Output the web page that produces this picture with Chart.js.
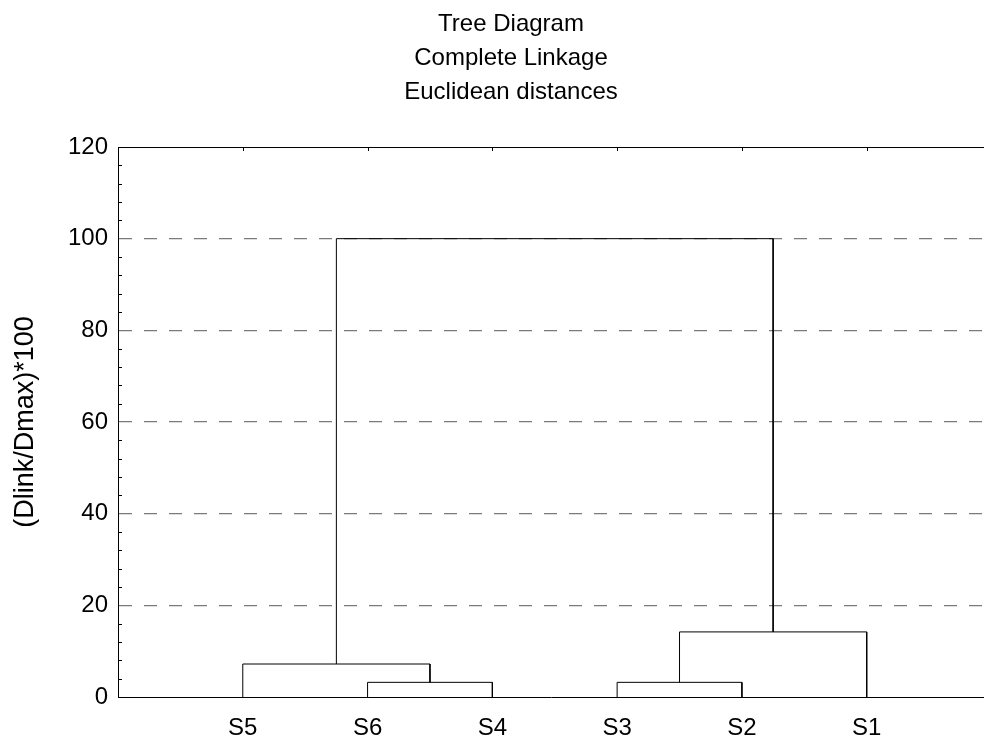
<!DOCTYPE html>
<html>
<head>
<meta charset="utf-8">
<script src="https://cdn.jsdelivr.net/npm/chart.js@4/dist/chart.umd.min.js"></script>
<style>
  body { margin: 0; background: #fff; }
</style>
</head>
<body>
<canvas id="tree" width="984" height="740"></canvas>
<script>
// Leaves in the order they appear along the axis
const leaves = ['S5', 'S6', 'S4', 'S3', 'S2', 'S1'];

// Merge steps: indices 0..5 are leaves, 6+ are the clusters made by each step
const linkLeft = [1, 3, 0, 7, 8];
const linkRight = [2, 4, 6, 5, 9];
const linkHeight = [3.2, 3.2, 7.2, 14.2, 100];

const titleLines = ['Tree Diagram', 'Complete Linkage', 'Euclidean distances'];
const yLabel = '(Dlink/Dmax)*100';
const minorStep = 4;

const FONT = "'Liberation Sans', Arial, sans-serif";

// Build one U-shaped line per merge
const nodeX = leaves.map((_, i) => i + 1);
const nodeH = leaves.map(() => 0);
const datasets = linkLeft.map((a, k) => {
    const b = linkRight[k];
    const h = linkHeight[k];
    nodeX.push((nodeX[a] + nodeX[b]) / 2);
    nodeH.push(h);
    return {
        data: [
            { x: nodeX[a], y: nodeH[a] },
            { x: nodeX[a], y: h },
            { x: nodeX[b], y: h },
            { x: nodeX[b], y: nodeH[b] }
        ],
        showLine: true,
        borderColor: '#000',
        borderWidth: 1,
        pointRadius: 0,
        fill: false
    };
});

// Top frame line, inner minor ticks on the left, inner ticks on top at each leaf
const frameTicks = {
    id: 'frameTicks',
    afterDatasetsDraw(chart) {
        const { ctx, chartArea: a, scales: { x, y } } = chart;
        ctx.save();
        ctx.strokeStyle = '#000';
        ctx.lineWidth = 1;
        ctx.beginPath();
        ctx.moveTo(a.left, a.top + 0.5);
        ctx.lineTo(a.right, a.top + 0.5);
        for (let v = 0; v <= y.max; v += minorStep) {
            if (v % 20 === 0) continue;
            const py = Math.round(y.getPixelForValue(v)) + 0.5;
            ctx.moveTo(a.left, py);
            ctx.lineTo(a.left + 4, py);
        }
        leaves.forEach((_, i) => {
            const px = Math.round(x.getPixelForValue(i + 1)) + 0.5;
            ctx.moveTo(px, a.top);
            ctx.lineTo(px, a.top + 4);
        });
        ctx.stroke();
        ctx.restore();
    }
};

new Chart(document.getElementById('tree'), {
    type: 'scatter',
    data: { datasets: datasets },
    plugins: [frameTicks],
    options: {
        responsive: false,
        animation: false,
        devicePixelRatio: 1,
        layout: { padding: { left: 38, right: 0, top: 0, bottom: 0 } },
        scales: {
            x: {
                type: 'linear',
                min: 0,
                max: 6.94,
                afterBuildTicks: s => { s.ticks = leaves.map((_, i) => ({ value: i + 1 })); },
                afterFit: s => { s.height = 43; },
                ticks: {
                    callback: v => leaves[v - 1],
                    autoSkip: false,
                    maxRotation: 0,
                    padding: 17,
                    color: '#000',
                    font: { family: FONT, size: 24 }
                },
                grid: { display: false, drawTicks: false },
                border: { display: true, color: '#000', width: 1 }
            },
            y: {
                min: 0,
                max: 120,
                afterFit: s => { s.width = 80; },
                ticks: {
                    stepSize: 20,
                    padding: 10,
                    color: '#000',
                    font: { family: FONT, size: 24 }
                },
                grid: {
                    drawTicks: false,
                    lineWidth: 1.3,
                    color: c => (c.tick && c.tick.value > 0 && c.tick.value < 120) ? '#7a7a7a' : 'rgba(0,0,0,0)'
                },
                border: { display: true, color: '#000', width: 1, dash: [13, 12] },
                title: {
                    display: true,
                    text: yLabel,
                    color: '#000',
                    font: { family: FONT, size: 27 },
                    padding: { top: -29, bottom: 0 }
                }
            }
        },
        plugins: {
            legend: { display: false },
            tooltip: { enabled: false },
            title: {
                display: true,
                text: titleLines,
                color: '#000',
                font: { family: FONT, size: 24, weight: 'normal', lineHeight: 1.4 },
                padding: { top: 8, bottom: 38.2 }
            }
        }
    }
});
</script>
</body>
</html>
